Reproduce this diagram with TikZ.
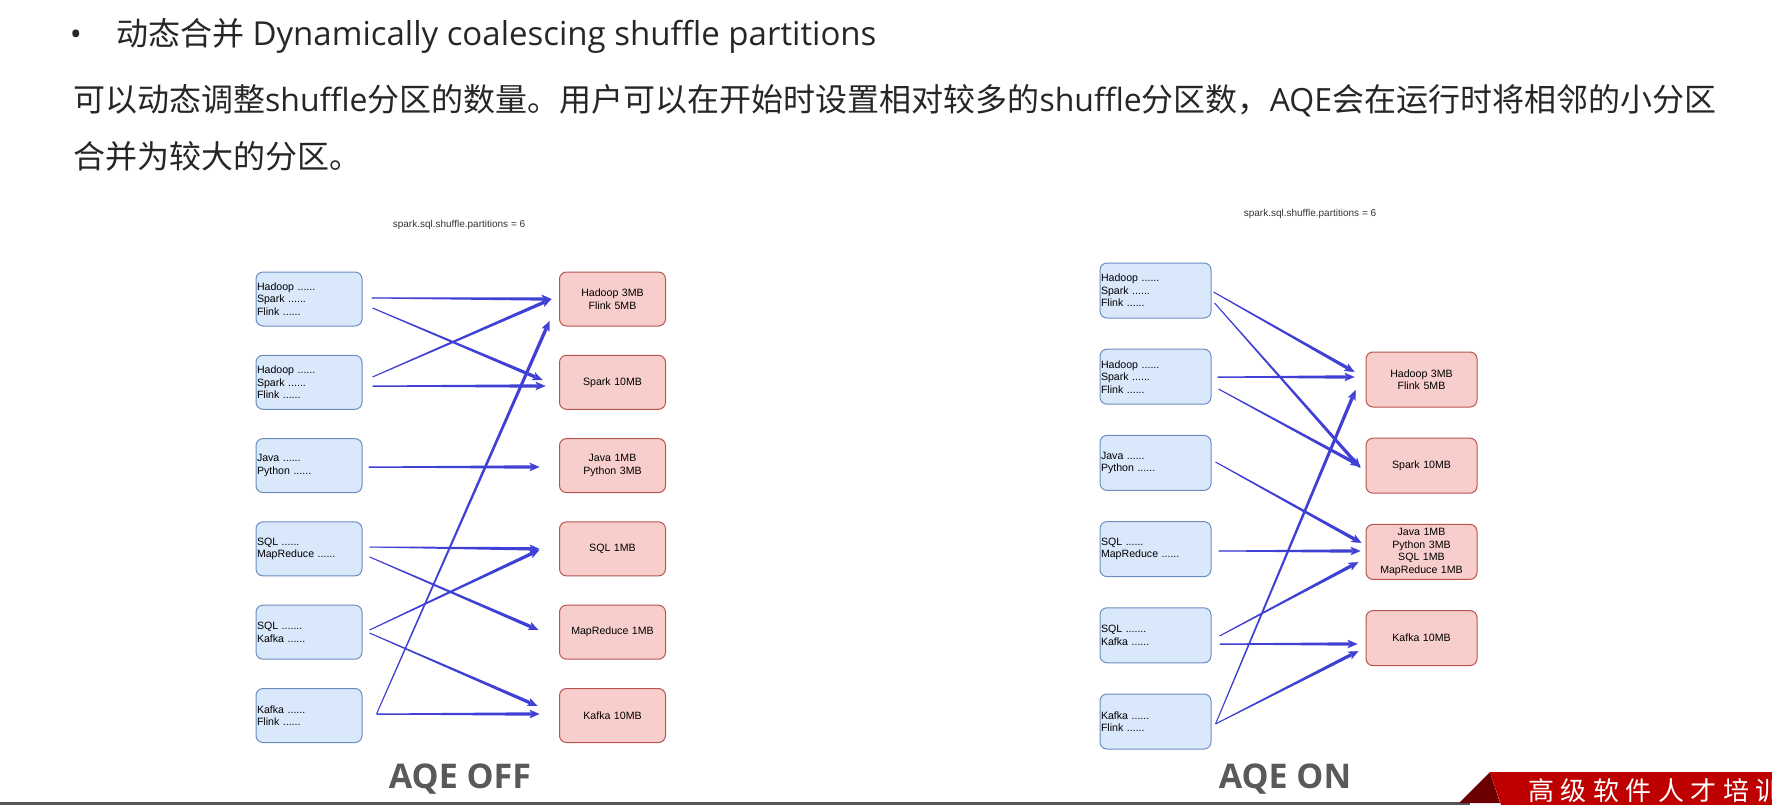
\documentclass[tikz,border=0pt]{standalone}
\usepackage{fontspec}
\usetikzlibrary{calc,arrows.meta}
\setmainfont{Open Sans}
\newfontfamily\cjk{Noto Sans CJK SC}
\newfontfamily\arial{Liberation Sans}

\definecolor{srcfill}{HTML}{DAE8FC}
\definecolor{srcline}{HTML}{6C8EBF}
\definecolor{partfill}{HTML}{F8CECC}
\definecolor{partline}{HTML}{B85450}
\definecolor{flowblue}{RGB}{64,64,212}
\definecolor{inktext}{RGB}{38,38,38}
\definecolor{titletext}{RGB}{51,51,51}
\definecolor{capgray}{RGB}{89,89,89}
\definecolor{linegray}{RGB}{85,85,85}
\definecolor{bannerred}{RGB}{190,0,0}
\definecolor{bannerdark}{RGB}{108,0,0}

\tikzstyle{src box}=[
    draw = srcline,
    fill = srcfill,
    line width = 1pt,
    rounded corners = 7pt,
    text width = 104pt,
    inner xsep = 1pt,
    minimum height = 54pt,
    align = left,
    font = \arial\fontsize{10.6}{12.5}\selectfont
]
\tikzstyle{part box}=[
    draw = partline,
    fill = partfill,
    line width = 1pt,
    rounded corners = 7pt,
    text width = 104pt,
    inner xsep = 1pt,
    minimum height = 54pt,
    align = center,
    font = \arial\fontsize{10.6}{12.5}\selectfont
]
\tikzstyle{head}=[
    anchor = base west,
    inner sep = 0pt,
    text = inktext,
    font = \fontsize{32}{38}\selectfont
]

% blue arrow, thin at the start and thick at the tip
\newcommand{\flowarrow}[2]{%
    \path (#1) coordinate (fs) (#2) coordinate (fe);
    \path ($(fe)!8pt!(fs)$) coordinate (fm);
    \fill[flowblue] ($(fs)!0.5pt!90:(fe)$) -- ($(fm)!1.7pt!-90:(fs)$)
        -- ($(fm)!1.7pt!90:(fs)$) -- ($(fs)!0.5pt!-90:(fe)$) -- cycle;
    \draw[flowblue, line width=0.3pt, -{Stealth[length=10pt, width=8.5pt, inset=2.5pt]}] (fs) -- (fe);
}

\begin{document}
\begin{tikzpicture}[x=1pt, y=-1pt]
    \useasboundingbox (0,0) rectangle (1772,805);
    \clip (0,0) rectangle (1772,805);

    % header text
    \node[head, anchor=base] (bullet) at (76,46) {•};
    \node[head] (line1) at (116,46) {{\cjk 动态合并} {\fontsize{33}{38}\selectfont Dynamically coalescing shuffle partitions}};
    \node[head] (line2) at (73,112) {{\cjk 可以动态调整}shuffle{\cjk 分区的数量。用户可以在开始时设置相对较多的}shuffle{\cjk 分区数，}AQE{\cjk 会在运行时将相邻的小分区}};
    \node[head] (line3) at (73,169) {{\cjk 合并为较大的分区。}};

    % AQE OFF
    \begin{scope}[node distance=83.3pt]
        \node[text=titletext, font=\arial\fontsize{10}{12}\selectfont] (offtitle) at (459,225) {spark.sql.shuffle.partitions = 6};
        \node[src box] (offin1) at (309,299) {Hadoop ......\\Spark ......\\Flink ......};
        \node[src box] (offin2) [below of = offin1] {Hadoop ......\\Spark ......\\Flink ......};
        \node[src box] (offin3) [below of = offin2] {Java ......\\Python ......};
        \node[src box] (offin4) [below of = offin3] {SQL ......\\MapReduce ......};
        \node[src box] (offin5) [below of = offin4] {SQL .......\\Kafka ......};
        \node[src box] (offin6) [below of = offin5] {Kafka ......\\Flink ......};

        \node[part box] (offout1) [node distance = 303.5pt, right of = offin1] {Hadoop 3MB\\Flink 5MB};
        \node[part box] (offout2) [below of = offout1] {Spark 10MB};
        \node[part box] (offout3) [below of = offout2] {Java 1MB\\Python 3MB};
        \node[part box] (offout4) [below of = offout3] {SQL 1MB};
        \node[part box] (offout5) [below of = offout4] {MapReduce 1MB};
        \node[part box] (offout6) [below of = offout5] {Kafka 10MB};

        \flowarrow{[shift={(9,-1)}]offin1.east}{[shift={(-7.5,0)}]offout1.west}
        \flowarrow{[shift={(10,9)}]offin1.east}{[shift={(-16.5,-2.3)}]offout2.west}
        \flowarrow{[shift={(10,-5.3)}]offin2.east}{[shift={(-7.5,0)}]offout1.west}
        \flowarrow{[shift={(10,3.7)}]offin2.east}{[shift={(-13.5,3.7)}]offout2.west}
        \flowarrow{[shift={(6,1.4)}]offin3.east}{[shift={(-19.5,1.4)}]offout3.west}
        \flowarrow{[shift={(7,-1.9)}]offin4.east}{[shift={(-19.5,0)}]offout4.west}
        \flowarrow{[shift={(7,8)}]offin4.east}{[shift={(-20.5,-2.2)}]offout5.west}
        \flowarrow{[shift={(7,-2.2)}]offin5.east}{[shift={(-19.5,1)}]offout4.west}
        \flowarrow{[shift={(7,0.8)}]offin5.east}{[shift={(-21.5,-9.5)}]offout6.west}
        \flowarrow{[shift={(14,-1.5)}]offin6.east}{[shift={(-19.5,-1.5)}]offout6.west}
        \flowarrow{[shift={(14,-1.5)}]offin6.east}{[shift={(-9.5,22)}]offout1.west}

        \node[anchor=base, text=capgray, font=\bfseries\fontsize{34}{40}\selectfont] (offcap) at (460,788) {AQE OFF};
    \end{scope}

    % AQE ON
    \begin{scope}[node distance=86.2pt,
        src box/.append style={text width=109pt, minimum height=55pt},
        part box/.append style={text width=109pt, minimum height=55pt}]
        \node[text=titletext, font=\arial\fontsize{10}{12}\selectfont] (ontitle) at (1310,214) {spark.sql.shuffle.partitions = 6};
        \node[src box] (onin1) at (1155.5,290.5) {Hadoop ......\\Spark ......\\Flink ......};
        \node[src box] (onin2) [below of = onin1] {Hadoop ......\\Spark ......\\Flink ......};
        \node[src box] (onin3) [below of = onin2] {Java ......\\Python ......};
        \node[src box] (onin4) [below of = onin3] {SQL ......\\MapReduce ......};
        \node[src box] (onin5) [below of = onin4] {SQL .......\\Kafka ......};
        \node[src box] (onin6) [below of = onin5] {Kafka ......\\Flink ......};

        \node[part box] (onout1) at (1421.5,379.5) {Hadoop 3MB\\Flink 5MB};
        \node[part box] (onout2) [below of = onout1] {Spark 10MB};
        \node[part box] (onout3) [below of = onout2] {Java 1MB\\Python 3MB\\SQL 1MB\\MapReduce 1MB};
        \node[part box] (onout4) [below of = onout3] {Kafka 10MB};

        \flowarrow{[shift={(2,1.5)}]onin1.east}{[shift={(-11,-7.5)}]onout1.west}
        \flowarrow{[shift={(3,12.5)}]onin1.east}{[shift={(-5,2.3)}]onout2.west}
        \flowarrow{[shift={(6,0.3)}]onin2.east}{[shift={(-11,-2.5)}]onout1.west}
        \flowarrow{[shift={(7,12.3)}]onin2.east}{[shift={(-5,0.3)}]onout2.west}
        \flowarrow{[shift={(4,-0.9)}]onin3.east}{[shift={(-4,-8.9)}]onout3.west}
        \flowarrow{[shift={(7,1.9)}]onin4.east}{[shift={(-5,-0.9)}]onout3.west}
        \flowarrow{[shift={(8,0.7)}]onin5.east}{[shift={(-7,10.1)}]onout3.west}
        \flowarrow{[shift={(8,8.7)}]onin5.east}{[shift={(-8,5.9)}]onout4.west}
        \flowarrow{[shift={(4,2.5)}]onin6.east}{[shift={(-10,10.5)}]onout1.west}
        \flowarrow{[shift={(4,2.5)}]onin6.east}{[shift={(-7,12.9)}]onout4.west}

        \node[anchor=base, text=capgray, font=\bfseries\fontsize{34}{40}\selectfont] (oncap) at (1285,788) {AQE ON};
    \end{scope}

    % footer line and banner
    \fill[linegray] (0,802) rectangle (1470,805);
    \fill[bannerdark] (1459,803) -- (1490,772) -- (1500,803) -- cycle;
    \fill[bannerred] (1490,772) -- (1772,772) -- (1772,805) -- (1501,805) -- cycle;
    \node[anchor=base west, inner sep=0pt, text=white, font=\cjk\fontsize{26}{30}\selectfont\addfontfeature{LetterSpace=25}] (banner) at (1528,800) {高级软件人才培训};
\end{tikzpicture}
\end{document}
